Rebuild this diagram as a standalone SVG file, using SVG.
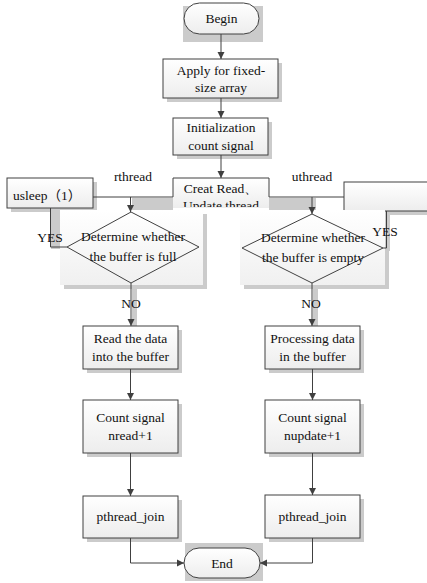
<svg xmlns="http://www.w3.org/2000/svg" width="427" height="583" viewBox="0 0 427 583">
<defs>
<linearGradient id="g" x1="0" y1="0" x2="0" y2="1"><stop offset="0" stop-color="#ffffff"/><stop offset="1" stop-color="#ededed"/></linearGradient>
<linearGradient id="gp" x1="0" y1="0" x2="0" y2="1"><stop offset="0" stop-color="#ffffff"/><stop offset="1" stop-color="#f0f0f0"/></linearGradient>
<marker id="a" markerWidth="8" markerHeight="8" refX="7" refY="4" orient="auto" markerUnits="userSpaceOnUse"><path d="M0,0.5 L7,4 L0,7.5 Z" fill="#404040"/></marker>
<clipPath id="cc"><rect x="170" y="170" width="110" height="37"/></clipPath>
</defs>
<style>
.box{fill:url(#g);stroke:#404040;stroke-width:1}
.sh{fill:#cbcbcb}
.pn{fill:url(#gp)}
.ln{fill:none;stroke:#404040;stroke-width:1}
.ar{fill:none;stroke:#404040;stroke-width:1;marker-end:url(#a)}
text{font-family:'Liberation Serif','Times New Roman','DejaVu Serif',serif;font-size:13.5px;fill:#111;text-anchor:middle}
.cjk{font-family:'Liberation Serif','Noto Sans CJK SC',serif;text-anchor:start}
</style>
<rect width="427" height="583" fill="#fff"/>

<g id="begin">
<rect class="sh" x="183" y="6" width="80" height="36"/>
<rect class="box" x="184" y="3" width="75" height="31" rx="15.5"/>
<text x="221.5" y="23">Begin</text>
</g>
<g id="apply">
<rect class="sh" x="167" y="63" width="115" height="39"/>
<rect class="box" x="163" y="59" width="115" height="39"/>
<text x="221" y="75">Apply for fixed-</text>
<text x="221" y="92">size array</text>
</g>
<g id="init">
<rect class="sh" x="177" y="122" width="95" height="37"/>
<rect class="box" x="173" y="118" width="95" height="37"/>
<text x="221" y="132">Initialization</text>
<text x="221" y="150">count signal</text>
</g>

<g id="strips">
<rect class="sh" x="132" y="198" width="41" height="15"/>
<rect class="sh" x="269" y="198" width="47" height="14"/>
<rect class="sh" x="51" y="209" width="16" height="40"/>
<rect class="sh" x="386" y="211" width="4" height="40"/>
<rect class="sh" x="132" y="285" width="5" height="41"/>
<rect class="sh" x="313" y="285" width="5" height="41"/>
</g>

<g id="creat">
<rect x="173" y="178" width="96" height="30" fill="url(#g)"/>
<path class="ln" d="M173,197 V178 H269 V197"/>
<g clip-path="url(#cc)">
<text x="221" y="193">Creat Read、</text>
<text x="221" y="210">Update thread</text>
</g>
</g>

<g id="usleep">
<rect class="sh" x="11" y="182" width="86" height="30"/>
<rect class="box" x="7" y="178" width="86" height="30"/>
<text class="cjk" x="13" y="200">usleep（1）</text>
</g>
<g id="rightbox">
<rect class="sh" x="348" y="186" width="82" height="29"/>
<rect class="box" x="344" y="182" width="90" height="29"/>
</g>

<g id="fullpanel">
<rect class="sh" x="64" y="214" width="143" height="75"/>
<rect class="pn" x="60" y="210" width="143" height="75"/>
<polygon class="ln" points="131,212 199,247 131,283 67,247"/>
<text x="133" y="241">Determine whether</text>
<text x="133" y="261">the buffer is full</text>
</g>
<g id="emptypanel">
<rect class="sh" x="244" y="214" width="145" height="75"/>
<rect class="pn" x="240" y="210" width="145" height="75"/>
<polygon class="ln" points="312,214 383,248 312,283 242,248"/>
<text x="313" y="242">Determine whether</text>
<text x="313" y="262">the buffer is empty</text>
</g>

<g id="read">
<rect class="sh" x="87" y="330" width="95" height="43"/>
<rect class="box" x="83" y="326" width="95" height="43"/>
<text x="130.5" y="343">Read the data</text>
<text x="130.5" y="361">into the buffer</text>
</g>
<g id="process">
<rect class="sh" x="269" y="330" width="95" height="43"/>
<rect class="box" x="265" y="326" width="95" height="43"/>
<text x="312.5" y="343">Processing data</text>
<text x="312.5" y="361">in the buffer</text>
</g>
<g id="countr">
<rect class="sh" x="87" y="404" width="95" height="53"/>
<rect class="box" x="83" y="400" width="95" height="53"/>
<text x="130.5" y="422">Count signal</text>
<text x="130.5" y="440">nread+1</text>
</g>
<g id="countu">
<rect class="sh" x="269" y="404" width="95" height="53"/>
<rect class="box" x="265" y="400" width="95" height="53"/>
<text x="312.5" y="422">Count signal</text>
<text x="312.5" y="440">nupdate+1</text>
</g>
<g id="joinr">
<rect class="sh" x="87" y="500" width="95" height="42"/>
<rect class="box" x="83" y="496" width="95" height="42"/>
<text x="130.5" y="521">pthread_join</text>
</g>
<g id="joinu">
<rect class="sh" x="269" y="499" width="95" height="43"/>
<rect class="box" x="265" y="495" width="95" height="43"/>
<text x="312.5" y="521">pthread_join</text>
</g>
<g id="end">
<rect class="sh" x="185" y="543" width="78" height="38"/>
<rect class="box" x="184" y="548" width="76" height="30" rx="15"/>
<text x="222" y="568">End</text>
</g>

<g id="connectors">
<line class="ar" x1="221" y1="34" x2="221" y2="59"/>
<line class="ar" x1="221" y1="98" x2="221" y2="118"/>
<line class="ar" x1="221" y1="155" x2="221" y2="178"/>
<line class="ln" x1="93" y1="197" x2="173" y2="197"/>
<line class="ln" x1="269" y1="197" x2="344" y2="197"/>
<line class="ar" x1="130.5" y1="197" x2="130.5" y2="212"/>
<line class="ar" x1="312" y1="197" x2="312" y2="214"/>
<path class="ln" d="M67,247 H50.5 V208"/>
<path class="ln" d="M383,248 H386.5 V211"/>
<text x="50" y="242">YES</text>
<text x="385" y="236">YES</text>
<text x="133" y="181">rthread</text>
<text x="312" y="181">uthread</text>
<line class="ar" x1="131" y1="283" x2="131" y2="326"/>
<line class="ar" x1="312" y1="283" x2="312" y2="326"/>
<text x="131" y="308">NO</text>
<text x="311" y="308">NO</text>
<line class="ar" x1="130.5" y1="369" x2="130.5" y2="400"/>
<line class="ar" x1="312.5" y1="369" x2="312.5" y2="400"/>
<line class="ar" x1="130.5" y1="453" x2="130.5" y2="496"/>
<line class="ar" x1="312.5" y1="453" x2="312.5" y2="495"/>
<path class="ar" d="M130.5,538 V563 H184"/>
<path class="ar" d="M312.5,538 V563 H260"/>
</g>
</svg>
